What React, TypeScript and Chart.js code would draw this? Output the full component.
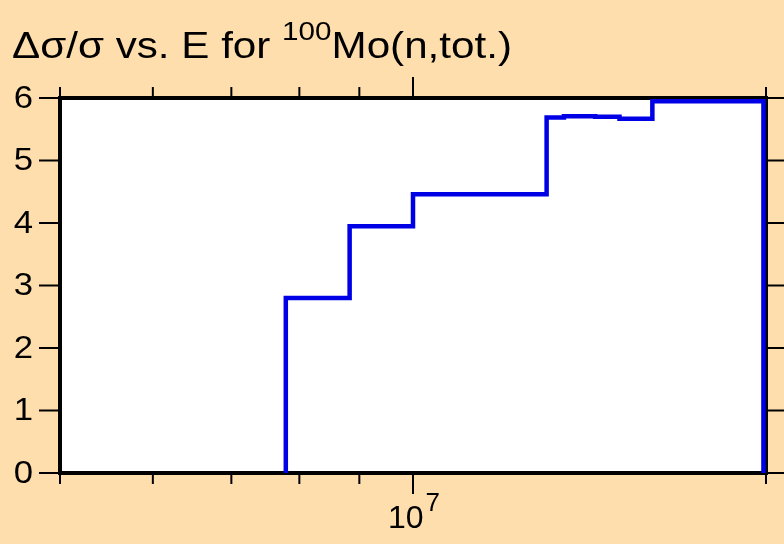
import React, { useEffect, useRef } from "react";
import { Chart, registerables } from "chart.js";

Chart.register(...registerables);

// Bin edges (eV) and relative uncertainty values (%)
const binEdges = [7.79e6, 8.83e6, 1.0e7, 1.3e7, 1.345e7, 1.43e7, 1.5e7, 1.6e7, 1.99e7];
const binValues = [2.8, 3.95, 4.46, 5.69, 5.71, 5.7, 5.67, 5.95];

const yTicks = [0, 1, 2, 3, 4, 5, 6];
const xMinorTicks = [5e6, 6e6, 7e6, 8e6, 9e6, 2e7];
const xMajorTicks = [1e7];
const xMajorLabels = [{ base: "10", sup: "7" }];

const titleParts = { pre: "\u0394\u03c3/\u03c3 vs. E for ", sup: "100", post: "Mo(n,tot.)" };

const X_MIN = 5e6;
const X_MAX = 2e7;
const Y_MIN = 0;
const Y_MAX = 6;

const BG = "#FFDEAD";
const FONT = "'Liberation Sans', Arial, Helvetica, sans-serif";

function buildPoints() {
  const pts: { x: number; y: number }[] = [];
  pts.push({ x: binEdges[0], y: 0 });
  for (let i = 0; i < binValues.length; i++) {
    pts.push({ x: binEdges[i], y: binValues[i] });
    pts.push({ x: binEdges[i + 1], y: binValues[i] });
  }
  pts.push({ x: binEdges[binEdges.length - 1], y: 0 });
  return pts;
}

const framePlugin = {
  id: "frame",
  beforeDraw(chart: any) {
    const { ctx, chartArea: a, width, height } = chart;
    ctx.save();
    ctx.fillStyle = BG;
    ctx.fillRect(0, 0, width, height);
    ctx.fillStyle = "#FFFFFF";
    ctx.fillRect(a.left, a.top, a.right - a.left, a.bottom - a.top);
    ctx.restore();
  },
  beforeDatasetsDraw(chart: any) {
    const { ctx, chartArea: a, scales } = chart;
    const xs = scales.x;
    const ys = scales.y;
    ctx.save();
    ctx.strokeStyle = "#000";
    ctx.lineWidth = 2;
    ctx.beginPath();
    for (const v of yTicks) {
      const py = ys.getPixelForValue(v);
      ctx.moveTo(a.left - 21, py);
      ctx.lineTo(a.left, py);
      ctx.moveTo(a.right, py);
      ctx.lineTo(a.right + 21, py);
    }
    for (const v of xMinorTicks) {
      const px = xs.getPixelForValue(v);
      ctx.moveTo(px, a.bottom);
      ctx.lineTo(px, a.bottom + 11);
      ctx.moveTo(px, a.top);
      ctx.lineTo(px, a.top - 11);
    }
    for (const v of xMajorTicks) {
      const px = xs.getPixelForValue(v);
      ctx.moveTo(px, a.bottom);
      ctx.lineTo(px, a.bottom + 21);
      ctx.moveTo(px, a.top);
      ctx.lineTo(px, a.top - 21);
    }
    ctx.stroke();
    ctx.lineWidth = 4;
    ctx.strokeRect(a.left, a.top, a.right - a.left, a.bottom - a.top);
    ctx.restore();
  },
  afterDraw(chart: any) {
    const { ctx, chartArea: a, scales } = chart;
    const xs = scales.x;
    const ys = scales.y;
    ctx.save();
    ctx.fillStyle = "#000";
    // y tick labels (slightly widened glyphs)
    ctx.font = `31px ${FONT}`;
    ctx.textAlign = "right";
    ctx.textBaseline = "middle";
    for (const v of yTicks) {
      const py = ys.getPixelForValue(v) + 1;
      ctx.save();
      ctx.translate(a.left - 27, py);
      ctx.scale(1.12, 1);
      ctx.fillText(String(v), 0, 0);
      ctx.restore();
    }
    // x major labels with superscript
    ctx.textBaseline = "alphabetic";
    xMajorTicks.forEach((v, i) => {
      const px = xs.getPixelForValue(v);
      const lab = xMajorLabels[i];
      ctx.font = `32px ${FONT}`;
      const wb = ctx.measureText(lab.base).width;
      ctx.font = `26px ${FONT}`;
      const ws = ctx.measureText(lab.sup).width;
      const x0 = px - (wb + ws) / 2;
      ctx.textAlign = "left";
      ctx.font = `32px ${FONT}`;
      ctx.fillText(lab.base, x0, 528);
      ctx.font = `26px ${FONT}`;
      ctx.fillText(lab.sup, x0 + wb + 2, 511);
    });
    // title, stretched horizontally to span the reference width
    ctx.textAlign = "left";
    const big = `37px ${FONT}`;
    const small = `26px ${FONT}`;
    ctx.font = big;
    const w1 = ctx.measureText(titleParts.pre).width;
    const w3 = ctx.measureText(titleParts.post).width;
    ctx.font = small;
    const w2 = ctx.measureText(titleParts.sup).width;
    const total = w1 + w2 + w3;
    const sx = 500 / total;
    ctx.save();
    ctx.translate(12, 0);
    ctx.scale(sx, 1);
    ctx.font = big;
    ctx.fillText(titleParts.pre, 0, 58);
    ctx.font = small;
    ctx.fillText(titleParts.sup, w1, 40);
    ctx.font = big;
    ctx.fillText(titleParts.post, w1 + w2, 58);
    ctx.restore();
    ctx.restore();
  },
};

export default function App() {
  const ref = useRef<HTMLCanvasElement | null>(null);
  useEffect(() => {
    if (!ref.current) return;
    const chart = new Chart(ref.current, {
      type: "line",
      data: {
        datasets: [
          {
            data: buildPoints(),
            borderColor: "#0000E6",
            borderWidth: 4.5,
            pointRadius: 0,
            fill: false,
            tension: 0,
            clip: 10,
          },
        ],
      },
      options: {
        animation: false,
        responsive: false,
        devicePixelRatio: 1,
        parsing: false as any,
        layout: { padding: { left: 60, right: 18, top: 98, bottom: 71 } },
        plugins: { legend: { display: false }, tooltip: { enabled: false } },
        scales: {
          x: { type: "logarithmic", min: X_MIN, max: X_MAX, display: false },
          y: { type: "linear", min: Y_MIN, max: Y_MAX, display: false },
        },
      },
      plugins: [framePlugin],
    });
    return () => chart.destroy();
  }, []);
  return (
    <div style={{ position: "fixed", left: 0, top: 0, width: 784, height: 544, background: BG }}>
      <canvas ref={ref} width={784} height={544} style={{ display: "block" }} />
    </div>
  );
}
